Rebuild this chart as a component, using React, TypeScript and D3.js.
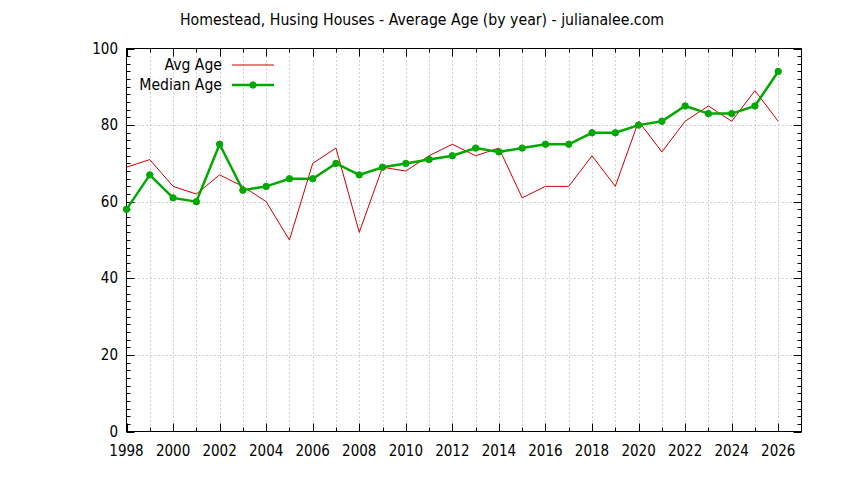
import React, { useEffect, useRef } from 'react';
import * as d3 from 'd3';

// data
const years = [
  1998, 1999, 2000, 2001, 2002, 2003, 2004, 2005, 2006, 2007,
  2008, 2009, 2010, 2011, 2012, 2013, 2014, 2015, 2016, 2017,
  2018, 2019, 2020, 2021, 2022, 2023, 2024, 2025, 2026,
];
const avgAge = [
  69, 71, 64, 62, 67, 64, 60, 50, 70, 74,
  52, 69, 68, 72, 75, 72, 74, 61, 64, 64,
  72, 64, 81, 73, 81, 85, 81, 89, 81,
];
const medianAge = [
  58, 67, 61, 60, 75, 63, 64, 66, 66, 70,
  67, 69, 70, 71, 72, 74, 73, 74, 75, 75,
  78, 78, 80, 81, 85, 83, 83, 85, 94,
];
const yTicks = [0, 20, 40, 60, 80, 100];
const seriesNames = ['Avg Age', 'Median Age'];

const WIDTH = 844;
const HEIGHT = 480;
const FONT = '"DejaVu Sans Condensed", "DejaVu Sans", sans-serif';
const RED = '#d00000';
const GREEN = '#00a800';

const App: React.FC = () => {
  const svgRef = useRef<SVGSVGElement>(null);

  useEffect(() => {
    if (!svgRef.current) return;
    const svg = d3.select(svgRef.current);
    svg.selectAll('*').remove();

    const left = 126.5, right = 801.5, top = 48.5, bottom = 431.5;

    const x = d3.scaleLinear().domain([1998, 2027]).range([left, right]);
    const y = d3.scaleLinear().domain([0, 100]).range([bottom, top]);

    svg.append('rect')
      .attr('width', WIDTH).attr('height', HEIGHT).attr('fill', '#ffffff');

    const yearTicks = d3.range(1998, 2027);
    const majorYears = yearTicks.filter(v => (v - 1998) % 2 === 0);
    const minorY = d3.range(0, 101, 2);

    // grid
    const grid = svg.append('g')
      .attr('stroke', '#a0a0a0')
      .attr('stroke-width', 1)
      .attr('stroke-dasharray', '1,3');
    grid.selectAll('line.gx')
      .data(yearTicks.filter(v => v > 1998))
      .enter().append('line')
      .attr('x1', d => Math.round(x(d)) + 0.5).attr('x2', d => Math.round(x(d)) + 0.5)
      .attr('y1', top).attr('y2', bottom);
    grid.selectAll('line.gy')
      .data(yTicks.filter(v => v > 0 && v < 100))
      .enter().append('line')
      .attr('x1', left).attr('x2', right)
      .attr('y1', d => Math.round(y(d)) + 0.5).attr('y2', d => Math.round(y(d)) + 0.5);

    // ticks (mirrored on all four sides)
    const ticks = svg.append('g').attr('stroke', '#000').attr('stroke-width', 1);
    yearTicks.forEach(v => {
      const len = majorYears.includes(v) ? 8 : 4;
      const px = Math.round(x(v)) + 0.5;
      ticks.append('line').attr('x1', px).attr('x2', px).attr('y1', bottom).attr('y2', bottom - len);
      ticks.append('line').attr('x1', px).attr('x2', px).attr('y1', top).attr('y2', top + len);
    });
    minorY.forEach(v => {
      const len = yTicks.includes(v) ? 8 : 4;
      const py = Math.round(y(v)) + 0.5;
      ticks.append('line').attr('x1', left).attr('x2', left + len).attr('y1', py).attr('y2', py);
      ticks.append('line').attr('x1', right).attr('x2', right - len).attr('y1', py).attr('y2', py);
    });

    // border
    svg.append('rect')
      .attr('x', left).attr('y', top)
      .attr('width', right - left).attr('height', bottom - top)
      .attr('fill', 'none').attr('stroke', '#000').attr('stroke-width', 1);

    // tick labels
    svg.append('g').selectAll('text')
      .data(majorYears)
      .enter().append('text')
      .attr('x', d => x(d))
      .attr('y', 456)
      .attr('text-anchor', 'middle')
      .style('font-family', FONT)
      .style('font-size', '15px')
      .text(d => d);
    svg.append('g').selectAll('text')
      .data(yTicks)
      .enter().append('text')
      .attr('x', 118)
      .attr('y', d => y(d) + 5)
      .attr('text-anchor', 'end')
      .style('font-family', FONT)
      .style('font-size', '15px')
      .text(d => d);

    // title
    svg.append('text')
      .attr('x', 422)
      .attr('y', 25)
      .attr('text-anchor', 'middle')
      .style('font-family', FONT)
      .style('font-size', '15.7px')
      .text('Homestead, Husing Houses - Average Age (by year) - julianalee.com');

    const line = d3.line<number>()
      .x((_, i) => x(years[i]))
      .y(d => y(d));

    // avg line
    svg.append('path')
      .datum(avgAge)
      .attr('fill', 'none')
      .attr('stroke', RED)
      .attr('stroke-width', 1)
      .attr('d', line);

    // median line + points
    svg.append('path')
      .datum(medianAge)
      .attr('fill', 'none')
      .attr('stroke', GREEN)
      .attr('stroke-width', 2.5)
      .attr('d', line);
    svg.append('g').selectAll('circle')
      .data(medianAge)
      .enter().append('circle')
      .attr('cx', (_, i) => x(years[i]))
      .attr('cy', d => y(d))
      .attr('r', 3.2)
      .attr('fill', GREEN)
      .attr('stroke', GREEN)
      .attr('stroke-width', 1);

    // legend
    const legend = svg.append('g');
    seriesNames.forEach((name, i) => {
      const ly = 65 + i * 20;
      legend.append('text')
        .attr('x', 222)
        .attr('y', ly + 5)
        .attr('text-anchor', 'end')
        .style('font-family', FONT)
        .style('font-size', '15.6px')
        .text(name);
      legend.append('line')
        .attr('x1', 232).attr('x2', 274)
        .attr('y1', ly).attr('y2', ly)
        .attr('stroke', i === 0 ? RED : GREEN)
        .attr('stroke-width', i === 0 ? 1 : 2.5);
      if (i === 1) {
        legend.append('circle')
          .attr('cx', 253).attr('cy', ly).attr('r', 3.2)
          .attr('fill', GREEN).attr('stroke', GREEN);
      }
    });
  }, []);

  return (
    <div style={{ position: 'absolute', left: 0, top: 0 }}>
      <svg ref={svgRef} width={WIDTH} height={HEIGHT} style={{ display: 'block' }}></svg>
    </div>
  );
};

export default App;
